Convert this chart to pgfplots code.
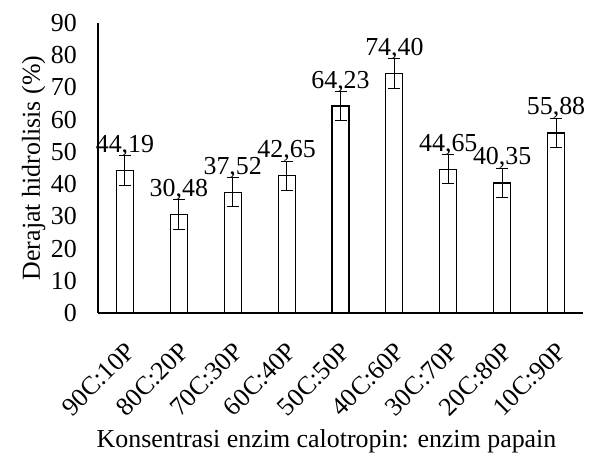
\documentclass[border=0pt]{standalone}
\usepackage{pgfplots}
\pgfplotsset{compat=1.18}
\usepackage{pgfplotstable}
\usepackage{fontspec}
\setmainfont{Liberation Serif}

\pgfplotstableread{
x val err
0 44.19 4.6
1 30.48 4.6
2 37.52 4.6
3 42.65 4.5
4 64.23 4.6
5 74.40 4.6
6 44.65 4.6
7 40.35 4.6
8 55.88 4.5
}\datatable

\begin{document}
\begin{tikzpicture}
\begin{axis}[
  scale only axis, width=485bp, height=290bp,
  xmin=-0.5, xmax=8.5, ymin=0, ymax=90,
  axis x line*=bottom, axis y line*=left,
  axis line style={-, line width=1.2bp},
  ytick={0,10,...,90}, xtick={0,...,8},
  xticklabels={90C:10P,80C:20P,70C:30P,60C:40P,50C:50P,40C:60P,30C:70P,20C:80P,10C:90P},
  major tick length=0pt,
  /pgf/number format/assume math mode=true,
  ticklabel style={font=\fontsize{26}{29}\selectfont},
  x tick label style={rotate=45, anchor=north east, inner sep=2bp, yshift=-17bp, xshift=-18bp},
  y tick label style={inner sep=2bp, xshift=-19bp},
  label style={font=\fontsize{26}{29}\selectfont},
  ylabel={Derajat hidrolisis (\%)},
  xlabel={Konsentrasi enzim calotropin: enzim papain},
  xlabel style={yshift=-6bp, xshift=-14bp},
  ybar, bar width=17bp,
  nodes near coords,
  every node near coord/.append style={font=\fontsize{26}{29}\selectfont, anchor=base, yshift=18bp,
    /pgf/number format/.cd, fixed, fixed zerofill, precision=2, use comma},
]
\addplot[draw=black, fill=white, line width=1.2bp,
  error bars/.cd, y dir=both, y explicit,
  error bar style={black, line width=1bp},
  error mark options={black, mark size=6bp, line width=1bp, rotate=90}]
  table[x=x, y=val, y error=err] {\datatable};
\end{axis}
\pgfresetboundingbox
\path[use as bounding box] (current axis.south west) ++(-98bp,-143bp) rectangle ++(595bp,456bp);
\end{tikzpicture}
\end{document}
